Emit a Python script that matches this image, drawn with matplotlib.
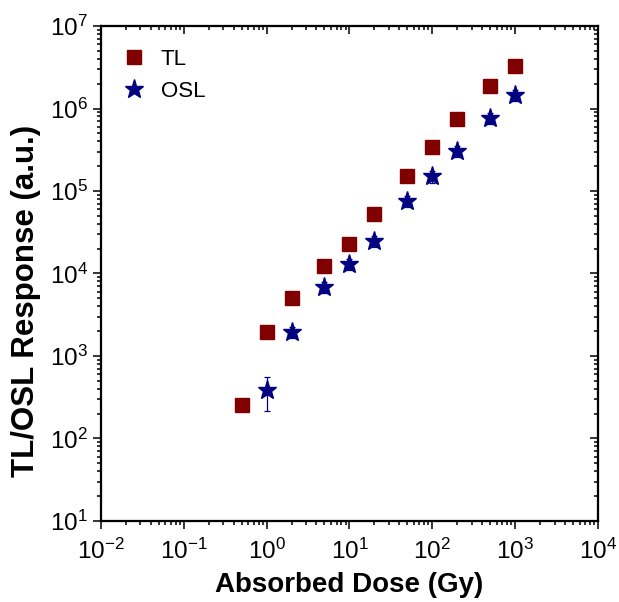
import matplotlib
matplotlib.use('Agg')
import matplotlib.pyplot as plt
from matplotlib.ticker import LogLocator, NullFormatter

plt.rcParams['font.family'] = ['Liberation Sans', 'DejaVu Sans']
plt.rcParams['mathtext.fontset'] = 'custom'
plt.rcParams['mathtext.rm'] = 'Liberation Sans'
plt.rcParams['mathtext.it'] = 'Liberation Sans:italic'
plt.rcParams['mathtext.bf'] = 'Liberation Sans:bold'
plt.rcParams['axes.unicode_minus'] = False

# dose values (Gy)
tl_dose = [0.5, 1, 2, 5, 10, 20, 50, 100, 200, 500, 1000]
tl_resp = [255, 1950, 5050, 12300, 22800, 52600, 150000, 341000, 746000, 1.87e6, 3.27e6]

osl_dose = [1, 2, 5, 10, 20, 50, 100, 200, 500, 1000]
osl_resp = [387, 1950, 6850, 13000, 24800, 75700, 150000, 305000, 768000, 1.46e6]
osl_err = [170, 300, 1000, 2000, 4000, 12000, 25000, 50000, 120000, 230000]

tl_color = '#800000'
osl_color = '#000080'

fig = plt.figure(figsize=(6.19, 6.02), dpi=100)
ax = fig.add_axes([0.163, 0.1346, 0.803, 0.8222])

ax.plot(tl_dose, tl_resp, linestyle='none', marker='s', markersize=9.5,
        color=tl_color, label='TL', zorder=3)
ax.errorbar(osl_dose, osl_resp, yerr=osl_err, fmt='none', ecolor=osl_color,
            elinewidth=0.9, capsize=2.5, capthick=0.9, zorder=2)
ax.plot(osl_dose, osl_resp, linestyle='none', marker='*', markersize=14,
        color=osl_color, label='OSL', zorder=3)

ax.set_xscale('log')
ax.set_yscale('log')
ax.set_xlim(1e-2, 1e4)
ax.set_ylim(1e1, 1e7)

for a in (ax.xaxis, ax.yaxis):
    a.set_major_locator(LogLocator(base=10, numticks=20))
    a.set_minor_locator(LogLocator(base=10, subs=range(2, 10), numticks=20))
    a.set_minor_formatter(NullFormatter())

ax.tick_params(which='major', direction='out', length=6, width=1.1, labelsize=17.5)
ax.tick_params(which='minor', direction='out', length=3, width=1.1)
ax.tick_params(axis='x', which='major', pad=7)
for s in ax.spines.values():
    s.set_linewidth(1.5)

# mirrored ticks on top and right, pointing inward
axt = ax.twiny()
axt.set_xscale('log')
axt.set_xlim(ax.get_xlim())
axt.xaxis.set_major_locator(LogLocator(base=10, numticks=20))
axt.xaxis.set_minor_locator(LogLocator(base=10, subs=range(2, 10), numticks=20))
axt.tick_params(which='major', direction='in', length=6, width=1.1, labeltop=False)
axt.tick_params(which='minor', direction='in', length=3, width=1.1)
axt.xaxis.set_minor_formatter(NullFormatter())

axr = ax.twinx()
axr.set_yscale('log')
axr.set_ylim(ax.get_ylim())
axr.yaxis.set_major_locator(LogLocator(base=10, numticks=20))
axr.yaxis.set_minor_locator(LogLocator(base=10, subs=range(2, 10), numticks=20))
axr.tick_params(which='major', direction='in', length=6, width=1.1, labelright=False)
axr.tick_params(which='minor', direction='in', length=3, width=1.1)
axr.yaxis.set_minor_formatter(NullFormatter())
for a in (axt, axr):
    for s in a.spines.values():
        s.set_linewidth(1.5)

ax.set_xlabel('Absorbed Dose (Gy)', fontsize=20, fontweight='bold')
ax.xaxis.set_label_coords(0.5, -0.103)
ax.set_ylabel('TL/OSL Response (a.u.)', fontsize=22.5, fontweight='bold')
ax.yaxis.set_label_coords(-0.12, 0.444)

ax.legend(loc='upper left', bbox_to_anchor=(0.0, 0.994), frameon=False,
          fontsize=16, handlelength=1.2, handletextpad=0.6, labelspacing=0.5,
          borderaxespad=0.5)

fig.savefig('out.png', dpi=100)
